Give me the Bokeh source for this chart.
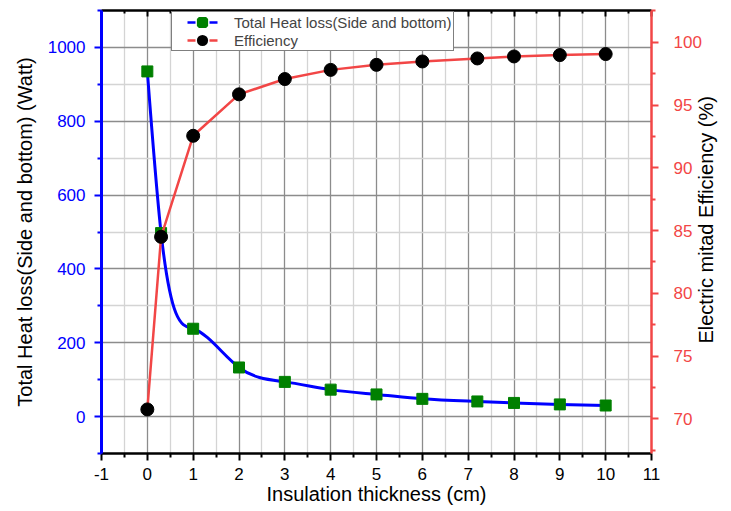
import math
import numpy as np
from bokeh.plotting import figure
from bokeh.models import LinearAxis, Range1d, FixedTicker, Legend, LegendItem
from bokeh.embed import file_html
from bokeh.resources import INLINE

# ---- data ----
thickness = [0, 0.3, 1, 2, 3, 4, 5, 6, 7.2, 8, 9, 10]
heat_loss = [935, 497, 238, 133, 94, 73, 60, 48, 41, 37, 33, 30]
efficiency = [70.75, 84.5, 92.55, 95.85, 97.07, 97.8, 98.2, 98.47, 98.71, 98.87, 98.98, 99.06]

x_ticks = list(range(-1, 12))
x_minor = [v + 0.5 for v in range(-2, 12)]
left_ticks = [0, 200, 400, 600, 800, 1000]
left_minor = [-100, 100, 300, 500, 700, 900, 1100]
right_ticks = [70, 75, 80, 85, 90, 95, 100]
right_minor = [67.5, 72.5, 77.5, 82.5, 87.5, 92.5, 97.5, 102.5]

FONT = "Liberation Sans"
BLUE = "#0000FF"
RED = "#F24646"
GREEN = "#008000"


def smooth_segments(x, y):
    """Cubic spline rendering of a polyline as Bezier segments (drawing style only)."""
    x = np.asarray(x, float)
    y = np.asarray(y, float)
    n = len(x)
    h = np.diff(x)
    d = np.diff(y) / h
    A = np.zeros((n, n))
    b = np.zeros(n)
    A[0, 0] = 1
    A[-1, -1] = 1
    for i in range(1, n - 1):
        A[i, i - 1] = h[i - 1]
        A[i, i] = 2 * (h[i - 1] + h[i])
        A[i, i + 1] = h[i]
        b[i] = 6 * (d[i] - d[i - 1])
    M = np.linalg.solve(A, b)
    sl = d - h * (2 * M[:-1] + M[1:]) / 6
    sr = d + h * (M[:-1] + 2 * M[1:]) / 6
    return dict(
        x0=x[:-1], y0=y[:-1], x1=x[1:], y1=y[1:],
        cx0=x[:-1] + h / 3, cy0=y[:-1] + sl * h / 3,
        cx1=x[1:] - h / 3, cy1=y[1:] - sr * h / 3,
    )


p = figure(width=731, height=510,
           x_range=Range1d(-1, 11), y_range=Range1d(-100, 1100),
           output_backend="svg", toolbar_location=None,
           min_border_left=101, min_border_right=76,
           min_border_top=10, min_border_bottom=57)
p.extra_y_ranges = {"eff": Range1d(67.24, 102.53)}
p.outline_line_color = None
p.background_fill_color = "white"

# grid
for g in (p.xgrid, p.ygrid):
    g.grid_line_color = "#8c8c8c"
    g.grid_line_width = 1.3
    g.minor_grid_line_color = "#d4d4d4"
    g.minor_grid_line_width = 1.3

# bottom axis
xa = p.xaxis[0]
xa.ticker = FixedTicker(ticks=x_ticks, minor_ticks=x_minor)
xa.major_label_overrides = {-1: "-1"}
xa.axis_label = "Insulation thickness (cm)"
xa.axis_label_text_font = FONT
xa.axis_label_text_font_size = "20px"
xa.axis_label_text_font_style = "normal"
xa.axis_label_text_color = "black"
xa.axis_label_standoff = 0
xa.major_label_text_font = FONT
xa.major_label_text_font_size = "17px"
xa.major_label_text_color = "black"
xa.major_label_standoff = 7
xa.axis_line_color = "black"
xa.axis_line_width = 2.5
xa.major_tick_line_color = "black"
xa.major_tick_line_width = 2
xa.major_tick_out = 7
xa.major_tick_in = 0
xa.minor_tick_line_color = "black"
xa.minor_tick_line_width = 2
xa.minor_tick_out = 4
xa.minor_tick_in = 0

# left axis
ya = p.yaxis[0]
ya.ticker = FixedTicker(ticks=left_ticks, minor_ticks=left_minor)
ya.axis_label = "Total Heat loss(Side and bottom) (Watt)"
ya.axis_label_text_font = FONT
ya.axis_label_text_font_size = "20px"
ya.axis_label_text_font_style = "normal"
ya.axis_label_text_color = "black"
ya.axis_label_standoff = 9
ya.major_label_text_font = FONT
ya.major_label_text_font_size = "17px"
ya.major_label_text_color = BLUE
ya.major_label_standoff = 9
ya.axis_line_color = BLUE
ya.axis_line_width = 3
ya.major_tick_line_color = BLUE
ya.major_tick_line_width = 2
ya.major_tick_out = 7
ya.major_tick_in = 0
ya.minor_tick_line_color = BLUE
ya.minor_tick_line_width = 2
ya.minor_tick_out = 4
ya.minor_tick_in = 0

# right axis
ra = LinearAxis(y_range_name="eff",
                ticker=FixedTicker(ticks=right_ticks, minor_ticks=right_minor))
ra.major_label_text_font = FONT
ra.major_label_text_font_size = "17px"
ra.major_label_text_color = RED
ra.major_label_standoff = 15
ra.axis_line_color = RED
ra.axis_line_width = 2.5
ra.major_tick_line_color = RED
ra.major_tick_line_width = 2
ra.major_tick_out = 7
ra.major_tick_in = 0
ra.minor_tick_line_color = RED
ra.minor_tick_line_width = 2
ra.minor_tick_out = 4
ra.minor_tick_in = 0
p.add_layout(ra, "right")

# right axis title, drawn bottom-to-top (as a single rotated label on a bare axis)
RIGHT_TITLE = "Electric mitad Efficiency (%)"
RIGHT_TITLE_START = 76.0   # where the rotated title begins, on the efficiency scale
rt = LinearAxis(y_range_name="eff", ticker=FixedTicker(ticks=[RIGHT_TITLE_START]))
rt.major_label_overrides = {RIGHT_TITLE_START: RIGHT_TITLE}
rt.major_label_orientation = math.pi / 2
rt.major_label_text_font = FONT
rt.major_label_text_font_size = "20px"
rt.major_label_text_color = "black"
rt.major_label_standoff = 2
rt.axis_line_color = None
rt.major_tick_line_color = None
rt.minor_tick_line_color = None
rt.major_tick_out = 0
rt.major_tick_in = 0
rt.minor_tick_out = 0
rt.minor_tick_in = 0
p.add_layout(rt, "right")

# top axis (frame line with inward ticks, no labels)
ta = LinearAxis(ticker=FixedTicker(ticks=x_ticks, minor_ticks=x_minor))
ta.major_label_text_font_size = "1px"
ta.major_label_text_color = None
ta.major_label_standoff = 0
ta.axis_line_color = "black"
ta.axis_line_width = 2.5
ta.major_tick_line_color = "black"
ta.major_tick_line_width = 2
ta.major_tick_in = 6
ta.major_tick_out = 0
ta.minor_tick_line_color = "black"
ta.minor_tick_line_width = 2
ta.minor_tick_in = 3
ta.minor_tick_out = 0
p.add_layout(ta, "above")

# heat loss series (smooth line)
p.bezier(line_color=BLUE, line_width=3, **smooth_segments(thickness, heat_loss))
p.scatter(thickness, heat_loss, marker="square", size=11,
          fill_color=GREEN, line_color=GREEN)

# efficiency series
p.line(thickness, efficiency, y_range_name="eff", line_color=RED, line_width=2.5)
p.scatter(thickness, efficiency, y_range_name="eff", marker="circle", size=13,
          fill_color="black", line_color="black")

# legend proxies (not shown in the plot area)
nan = [float("nan")]
dash = "0 14 8 14 8 100"
lh_line = p.line(nan, nan, line_color=BLUE, line_width=2.5, line_dash=dash)
lh_mark = p.scatter(nan, nan, marker="square", fill_color=GREEN,
                    line_color=GREEN, line_width=4)
le_line = p.line(nan, nan, line_color=RED, line_width=2.5, line_dash=dash)
le_mark = p.scatter(nan, nan, marker="circle", fill_color="black",
                    line_color="black", line_width=4)

legend = Legend(items=[
    LegendItem(label="Total Heat loss(Side and bottom)", renderers=[lh_line, lh_mark]),
    LegendItem(label="Efficiency", renderers=[le_line, le_mark]),
], location=(70, 402), padding=1, spacing=0, glyph_width=58, glyph_height=18,
    label_height=18, label_standoff=3, label_text_font=FONT, label_text_font_size="15px",
    label_text_line_height=1.0,
    border_line_color="black", border_line_width=1, background_fill_color="white",
    background_fill_alpha=1, margin=0)
p.add_layout(legend)

open("out.html", "w").write(file_html(p, INLINE))
